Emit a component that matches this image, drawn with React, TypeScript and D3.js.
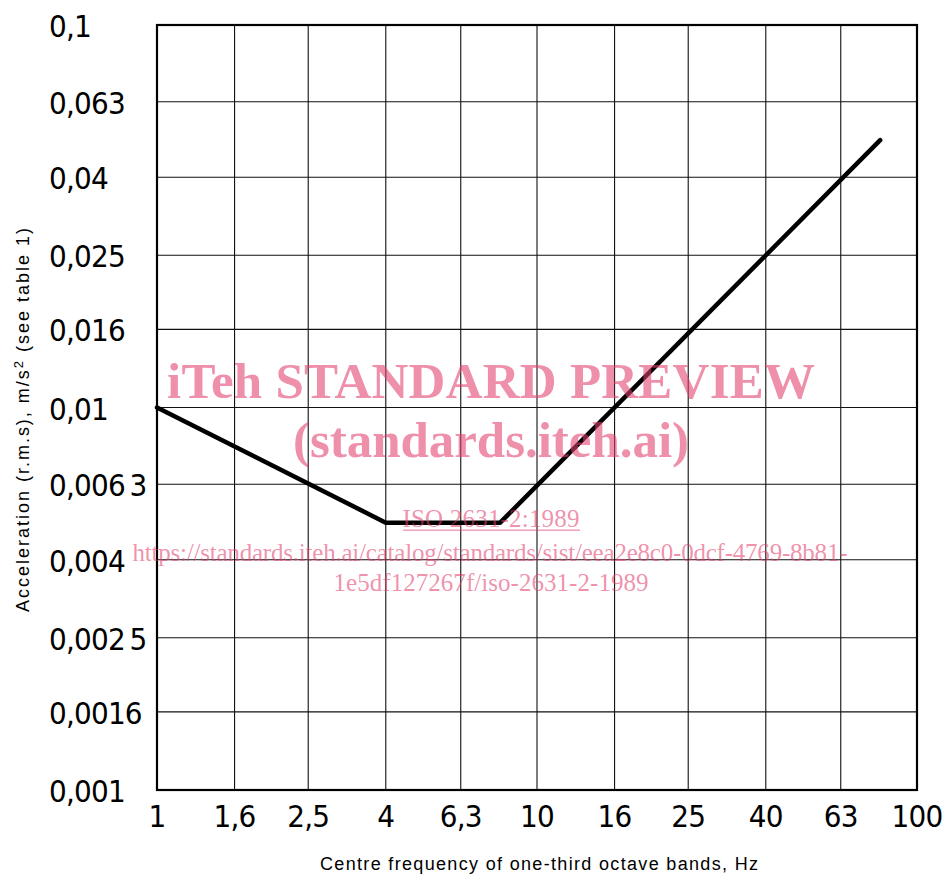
import { useEffect, useRef } from 'react';
import * as d3 from 'd3';

// Centre frequencies (Hz) and their printed labels
const xTicks = [1, 1.6, 2.5, 4, 6.3, 10, 16, 25, 40, 63, 100];
const xTickLabels = ['1', '1,6', '2,5', '4', '6,3', '10', '16', '25', '40', '63', '100'];

// Acceleration ticks (m/s²)
const yTicks = [0.1, 0.063, 0.04, 0.025, 0.016, 0.01, 0.0063, 0.004, 0.0025, 0.0016, 0.001];
const yTickLabels = ['0,1', '0,063', '0,04', '0,025', '0,016', '0,01', '0,006\u20093', '0,004', '0,002\u20095', '0,0016', '0,001'];

// Base curve
const curveFreq = [1, 4, 8, 80];
const curveAccel = [0.01, 0.005, 0.005, 0.05];

const W = 947;
const H = 880;
const TICK_FONT = '"DejaVu Sans Condensed", "DejaVu Sans", sans-serif';
const TITLE_FONT = '"Liberation Sans", Arial, sans-serif';
const MARK_FONT = '"Liberation Serif", "Times New Roman", serif';

export default function App() {
  const ref = useRef<SVGSVGElement>(null);

  useEffect(() => {
    if (!ref.current) return;
    document.body.style.margin = '0';

    const x = d3.scaleLog().domain([1, 100]).range([157, 917]);
    const y = d3.scaleLog().domain([0.001, 0.1]).range([790, 25]);

    const svg = d3.select(ref.current);
    svg.selectAll('*').remove();

    svg.append('rect').attr('width', W).attr('height', H).attr('fill', '#fff');

    // Grid
    const grid = svg.append('g').attr('stroke', '#111').attr('stroke-width', 1.1);
    grid.selectAll('line.v')
      .data(xTicks)
      .enter()
      .append('line')
      .attr('x1', d => x(d)).attr('x2', d => x(d))
      .attr('y1', y(0.1)).attr('y2', y(0.001));
    grid.selectAll('line.h')
      .data(yTicks)
      .enter()
      .append('line')
      .attr('y1', d => y(d)).attr('y2', d => y(d))
      .attr('x1', x(1)).attr('x2', x(100));

    // Frame
    svg.append('rect')
      .attr('x', x(1)).attr('y', y(0.1))
      .attr('width', x(100) - x(1)).attr('height', y(0.001) - y(0.1))
      .attr('fill', 'none').attr('stroke', '#000').attr('stroke-width', 2.2);

    // Tick labels
    svg.append('g')
      .selectAll('text')
      .data(yTicks)
      .enter()
      .append('text')
      .attr('x', 49)
      .attr('y', d => y(d) + 12)
      .attr('font-family', TICK_FONT)
      .attr('font-size', 31)
      .attr('letter-spacing', -0.8)
      .attr('fill', '#000')
      .text((_, i) => yTickLabels[i]);

    svg.append('g')
      .selectAll('text')
      .data(xTicks)
      .enter()
      .append('text')
      .attr('x', d => x(d))
      .attr('y', 827)
      .attr('text-anchor', 'middle')
      .attr('font-family', TICK_FONT)
      .attr('font-size', 31)
      .attr('letter-spacing', -0.8)
      .attr('fill', '#000')
      .text((_, i) => xTickLabels[i]);

    // Axis titles
    svg.append('text')
      .attr('x', 539).attr('y', 870)
      .attr('text-anchor', 'middle')
      .attr('font-family', TITLE_FONT)
      .attr('font-size', 18)
      .attr('textLength', 438)
      .text('Centre frequency of one-third octave bands, Hz');

    const yt = svg.append('text')
      .attr('transform', 'translate(29,420) rotate(-90)')
      .attr('text-anchor', 'middle')
      .attr('font-family', TITLE_FONT)
      .attr('font-size', 18)
      .attr('textLength', 384);
    yt.append('tspan').text('Acceleration (r.m.s),  m/s');
    yt.append('tspan').attr('dy', -6).attr('font-size', 13).text('2');
    yt.append('tspan').attr('dy', 6).text(' (see table 1)');

    // Curve
    const line = d3.line<number>()
      .x((_, i) => x(curveFreq[i]))
      .y(d => y(d));
    svg.append('path')
      .attr('d', line(curveAccel) as string)
      .attr('fill', 'none')
      .attr('stroke', '#000')
      .attr('stroke-width', 4.5)
      .attr('stroke-linejoin', 'round')
      .attr('stroke-linecap', 'round');

    // Watermark
    const wm = svg.append('g')
      .attr('fill', '#e4406e')
      .attr('fill-opacity', 0.58)
      .attr('font-family', MARK_FONT)
      .attr('text-anchor', 'middle');
    wm.append('text').attr('x', 491).attr('y', 398)
      .attr('font-size', 51).attr('font-weight', 'bold')
      .attr('textLength', 648)
      .text('iTeh STANDARD PREVIEW');
    wm.append('text').attr('x', 491).attr('y', 457)
      .attr('font-size', 51).attr('font-weight', 'bold')
      .attr('textLength', 396)
      .text('(standards.iteh.ai)');
    wm.append('text').attr('x', 491).attr('y', 527)
      .attr('font-size', 25)
      .attr('textLength', 177)
      .text('ISO 2631-2:1989');
    wm.append('rect').attr('x', 403).attr('y', 529.5).attr('width', 177).attr('height', 1.3);
    wm.append('text').attr('x', 490).attr('y', 561)
      .attr('font-size', 25)
      .attr('textLength', 715)
      .text('https://standards.iteh.ai/catalog/standards/sist/eea2e8c0-0dcf-4769-8b81-');
    wm.append('text').attr('x', 491).attr('y', 591)
      .attr('font-size', 25)
      .attr('textLength', 315)
      .text('1e5df127267f/iso-2631-2-1989');
  }, []);

  return (
    <svg
      ref={ref}
      width={W}
      height={H}
      style={{ display: 'block', position: 'absolute', left: 0, top: 0 }}
    />
  );
}
